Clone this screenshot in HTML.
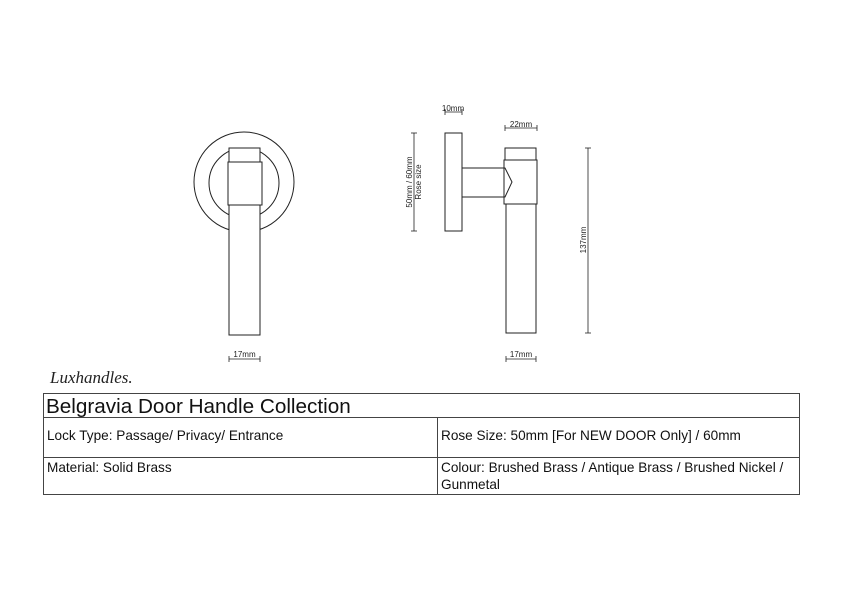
<!DOCTYPE html>
<html><head><style>
body{margin:0;background:#fff;}
svg{display:block;font-family:"Liberation Sans",sans-serif;}
</style></head><body>
<svg width="842" height="595" viewBox="0 0 842 595" xmlns="http://www.w3.org/2000/svg">
<g fill="none" stroke="#222" stroke-width="1">
<circle cx="244" cy="182" r="50"/>
<circle cx="244" cy="183" r="35"/>
<rect x="229" y="148" width="31" height="14" fill="#fff"/>
<rect x="228" y="162" width="34" height="43" fill="#fff"/>
<rect x="229" y="205" width="31" height="130" fill="#fff"/>
<rect x="445" y="133" width="17" height="98"/>
<path d="M462 168 H505 L512 182 L505 197 H462"/>
<rect x="505" y="148" width="31" height="12"/>
<rect x="504" y="160" width="33" height="44"/>
<rect x="506" y="204" width="30" height="129"/>
</g>
<g stroke="#222" stroke-width="0.8" fill="none">
<line x1="229" y1="359" x2="260" y2="359"/><line x1="229" y1="356" x2="229" y2="362"/><line x1="260" y1="356" x2="260" y2="362"/>
<line x1="506" y1="359" x2="536" y2="359"/><line x1="506" y1="356" x2="506" y2="362"/><line x1="536" y1="356" x2="536" y2="362"/>
<line x1="505" y1="128" x2="537" y2="128"/><line x1="505" y1="125" x2="505" y2="131"/><line x1="537" y1="125" x2="537" y2="131"/>
<line x1="445" y1="112" x2="462" y2="112"/><line x1="445" y1="109" x2="445" y2="115"/><line x1="462" y1="109" x2="462" y2="115"/>
<line x1="588" y1="148" x2="588" y2="333"/><line x1="585" y1="148" x2="591" y2="148"/><line x1="585" y1="333" x2="591" y2="333"/>
<line x1="414" y1="133" x2="414" y2="231"/><line x1="411" y1="133" x2="417" y2="133"/><line x1="411" y1="231" x2="417" y2="231"/>
</g>
<g font-size="8" fill="#222">
<text x="244.5" y="357" text-anchor="middle">17mm</text>
<text x="521" y="357" text-anchor="middle">17mm</text>
<text x="521" y="127" text-anchor="middle">22mm</text>
<text x="453" y="111" text-anchor="middle">10mm</text>
<text transform="translate(586,240) rotate(-90)" text-anchor="middle">137mm</text>
<text transform="translate(412,182) rotate(-90)" text-anchor="middle">50mm / 60mm</text>
<text transform="translate(421,182) rotate(-90)" text-anchor="middle">Rose size</text>
</g>
<text x="50" y="383" font-family="Liberation Serif,serif" font-style="italic" font-size="17" fill="#222">Luxhandles.</text>
<g fill="none" stroke="#444" stroke-width="1">
<rect x="43.5" y="393.5" width="756" height="101"/>
<line x1="43.5" y1="417.5" x2="799.5" y2="417.5"/>
<line x1="43.5" y1="457.5" x2="799.5" y2="457.5"/>
<line x1="437.5" y1="417.5" x2="437.5" y2="494.5"/>
</g>
<g fill="#111">
<text x="46" y="413" font-size="20.7">Belgravia Door Handle Collection</text>
<text x="47" y="440" font-size="13.6">Lock Type: Passage/ Privacy/ Entrance</text>
<text x="441" y="440" font-size="13.6">Rose Size: 50mm [For NEW DOOR Only] / 60mm</text>
<text x="47" y="472" font-size="13.6">Material: Solid Brass</text>
<text x="441" y="472" font-size="13.6">Colour: Brushed Brass / Antique Brass / Brushed Nickel /</text>
<text x="441" y="489" font-size="13.6">Gunmetal</text>
</g>
</svg>
</body></html>
